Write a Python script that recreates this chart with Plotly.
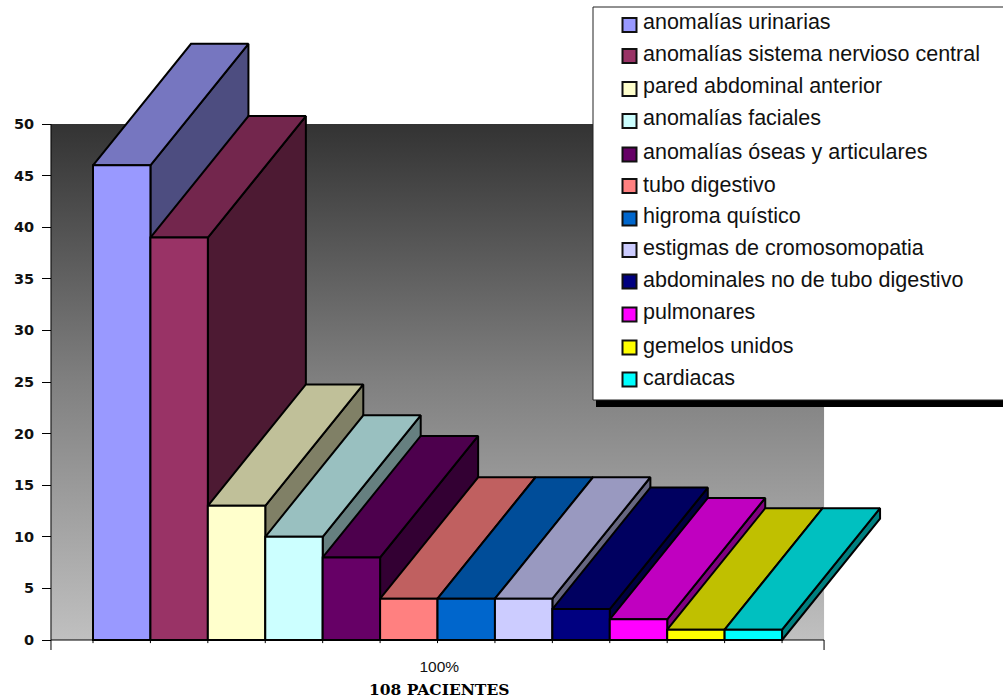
import plotly.graph_objects as go

# Congenital anomaly counts, one column per category
categories = [
    "anomalías urinarias", "anomalías sistema nervioso central",
    "pared abdominal anterior", "anomalías faciales",
    "anomalías óseas y articulares", "tubo digestivo", "higroma quístico",
    "estigmas de cromosomopatia", "abdominales no de tubo digestivo",
    "pulmonares", "gemelos unidos", "cardiacas",
]
values = [46, 39, 13, 10, 8, 4, 4, 4, 3, 2, 1, 1]
front_colors = ["#9999FF", "#993366", "#FFFFCC", "#CCFFFF", "#660066", "#FF8080",
                "#0066CC", "#CCCCFF", "#000080", "#FF00FF", "#FFFF00", "#00FFFF"]
top_colors = ["#7676C0", "#73264D", "#C0C099", "#99C0C0", "#4D004D", "#C06060",
              "#004D99", "#9999C0", "#000060", "#C000C0", "#C0C000", "#00C0C0"]
side_colors = ["#4D4D80", "#4D1A33", "#808066", "#668080", "#330033", "#804040",
               "#003366", "#666680", "#000040", "#800080", "#808000", "#008080"]
y_ticks = [0, 5, 10, 15, 20, 25, 30, 35, 40, 45, 50]
x_label = "100%"
x_title = "108 PACIENTES"

# Pseudo-3D projection: how far the back face is shifted, in axis units
DEPTH_X = 1.707
DEPTH_Y = 11.77
EDGE = dict(color="black", width=2)

# Both axes fill the whole page, so 3D faces may rise above the gradient wall
X_RANGE = [-1.6196, 15.848]
Y_RANGE = [-5.814, 62.016]
WALL_LEFT, WALL_RIGHT, WALL_TOP = -0.7317, 12.7317, 50

# Legend box layout, in page pixels from the top left corner
PAGE_W, PAGE_H = 1003, 700
KEY_CENTERS = [25, 56, 89, 121, 154.5, 186, 218.5, 250, 281.5, 314.5, 347.5, 379.5]
TEXT_BASELINES = [29, 61, 93, 125, 159, 191.5, 223, 255, 287, 319, 352.5, 385]

fig = go.Figure()

# Gradient wall behind the columns
fig.add_trace(go.Scatter(
    x=[WALL_LEFT, WALL_RIGHT, WALL_RIGHT, WALL_LEFT, WALL_LEFT],
    y=[0, 0, WALL_TOP, WALL_TOP, 0],
    mode="none", fill="toself", showlegend=False, hoverinfo="skip",
    fillgradient=dict(type="vertical",
                      colorscale=[[0, "#C0C0C0"], [0.5, "#808080"], [1, "#333333"]]),
))

# Axis lines and the end ticks below the category axis
fig.add_trace(go.Scatter(
    x=[WALL_LEFT, WALL_LEFT, WALL_LEFT, None, WALL_LEFT, WALL_RIGHT, WALL_RIGHT],
    y=[WALL_TOP, 0, -0.97, None, 0, 0, -0.97],
    mode="lines", line=dict(color="black", width=1),
    showlegend=False, hoverinfo="skip",
))
edge_x, edge_y = [], []
for i in range(len(values) + 1):
    edge_x += [i, i, None]
    edge_y += [0, -0.3, None]
fig.add_trace(go.Scatter(x=edge_x, y=edge_y, mode="lines",
                         line=dict(color="black", width=1),
                         showlegend=False, hoverinfo="skip"))

# Side and top faces, left to right so each top hides its neighbour's side
for i, v in enumerate(values):
    x0, x1 = i, i + 1
    fig.add_trace(go.Scatter(
        x=[x1, x1, x1 + DEPTH_X, x1 + DEPTH_X, x1],
        y=[0, v, v + DEPTH_Y, DEPTH_Y, 0],
        mode="lines", fill="toself", fillcolor=side_colors[i], line=EDGE,
        showlegend=False, hoverinfo="skip",
    ))
    fig.add_trace(go.Scatter(
        x=[x0, x1, x1 + DEPTH_X, x0 + DEPTH_X, x0],
        y=[v, v, v + DEPTH_Y, v + DEPTH_Y, v],
        mode="lines", fill="toself", fillcolor=top_colors[i], line=EDGE,
        showlegend=False, hoverinfo="skip",
    ))

# Front faces live on an overlaid subplot so they paint above every other face
for i, (name, v) in enumerate(zip(categories, values)):
    fig.add_trace(go.Bar(
        x=[i + 0.5], y=[v], width=1, name=name,
        marker=dict(color=front_colors[i], line=EDGE),
        xaxis="x2", yaxis="y2", showlegend=False,
    ))

# Boxed key with a hard drop shadow that runs off the right edge of the page
shapes = [
    dict(type="rect", xref="paper", yref="paper", layer="above",
         x0=596 / PAGE_W, x1=1, y0=1 - 407 / PAGE_H, y1=1 - 400 / PAGE_H,
         fillcolor="black", line=dict(width=0)),
    dict(type="rect", xref="paper", yref="paper", layer="above",
         x0=593 / PAGE_W, x1=1.02, y0=1 - 400 / PAGE_H, y1=1 - 7 / PAGE_H,
         fillcolor="white", line=dict(color="#222222", width=1)),
]
annotations = [dict(
    text=f"<b>{x_title}</b>", xref="paper", yref="paper",
    x=439 / PAGE_W, y=1 - 689.5 / PAGE_H, xanchor="center", yanchor="middle",
    showarrow=False,
    font=dict(family="DejaVu Serif", size=15.5, color="black"),
)]
for name, color, key_y, base_y in zip(categories, front_colors, KEY_CENTERS, TEXT_BASELINES):
    shapes.append(dict(
        type="rect", xref="paper", yref="paper", layer="above",
        x0=622.5 / PAGE_W, x1=636.5 / PAGE_W,
        y0=1 - (key_y + 7) / PAGE_H, y1=1 - (key_y - 7) / PAGE_H,
        fillcolor=color, line=dict(color="#111111", width=2),
    ))
    annotations.append(dict(
        text=name, xref="paper", yref="paper",
        x=641 / PAGE_W, y=1 - (base_y - 7) / PAGE_H,
        xanchor="left", yanchor="middle", showarrow=False,
        font=dict(family="Liberation Sans", size=21.5, color="#111111"),
    ))

fig.update_layout(
    width=PAGE_W, height=PAGE_H,
    margin=dict(l=0, r=0, t=0, b=0),
    paper_bgcolor="white", plot_bgcolor="rgba(0,0,0,0)",
    barmode="overlay",
    showlegend=False,
    xaxis=dict(
        range=X_RANGE, domain=[0, 1], anchor="free", position=60 / PAGE_H,
        tickmode="array", tickvals=[6.03], ticktext=[x_label],
        ticks="outside", ticklen=12, tickcolor="rgba(0,0,0,0)",
        tickfont=dict(family="Liberation Sans", size=15.5, color="#111111"),
        showgrid=False, zeroline=False, showline=False,
    ),
    yaxis=dict(
        range=Y_RANGE, domain=[0, 1], anchor="free", position=51 / PAGE_W,
        tickmode="array", tickvals=y_ticks,
        ticks="outside", ticklen=9, tickcolor="black", tickwidth=1,
        ticklabelstandoff=5,
        tickfont=dict(family="DejaVu Sans", size=14.5, color="#111111", weight="bold"),
        showgrid=False, zeroline=False, showline=False,
    ),
    xaxis2=dict(range=X_RANGE, overlaying="x", visible=False),
    yaxis2=dict(range=Y_RANGE, overlaying="y", visible=False),
    shapes=shapes,
    annotations=annotations,
)

fig.write_html("out.html")
